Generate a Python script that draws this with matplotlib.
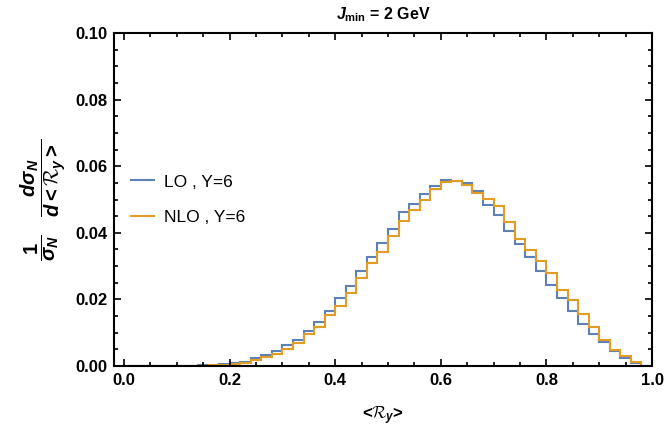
import numpy as np
import matplotlib
matplotlib.use("Agg")
import matplotlib.pyplot as plt
from matplotlib.ticker import MultipleLocator, FormatStrFormatter

plt.rcParams['font.family'] = ['Liberation Sans', 'DejaVu Sans']
plt.rcParams['mathtext.fontset'] = 'custom'
plt.rcParams['mathtext.rm'] = 'Liberation Sans:bold'
plt.rcParams['mathtext.it'] = 'Liberation Sans:bold:italic'
plt.rcParams['mathtext.bf'] = 'Liberation Sans:bold'
plt.rcParams['mathtext.cal'] = 'cmsy10'

# bin edges (width 0.02 from 0 to 1)
bin_edges = np.round(np.arange(0, 51) * 0.02, 2)

lo_values = [0, 0, 0, 0, 0, 0, 0,
             0.0002, 0.0003, 0.0005, 0.0008, 0.0013, 0.0023, 0.0033, 0.0044,
             0.0062, 0.0077, 0.0104, 0.0132, 0.0165,
             0.0204, 0.0240, 0.0286, 0.0327, 0.0370,
             0.0411, 0.0461, 0.0486, 0.0516, 0.0541,
             0.0559, 0.0556, 0.0551, 0.0526, 0.0483,
             0.0453, 0.0406, 0.0366, 0.0326, 0.0286,
             0.0243, 0.0205, 0.0165, 0.0127, 0.0097,
             0.0071, 0.0044, 0.0024, 0.0010,
             0]

nlo_values = [0, 0, 0, 0, 0, 0, 0,
              0.00015, 0.00025, 0.00035, 0.00055, 0.0010, 0.0017, 0.0027, 0.0037,
              0.0051, 0.0069, 0.0097, 0.0117, 0.0152,
              0.0180, 0.0219, 0.0265, 0.0310, 0.0342,
              0.0390, 0.0435, 0.0468, 0.0497, 0.0531,
              0.0552, 0.0556, 0.0544, 0.0520, 0.0502,
              0.0481, 0.0433, 0.0381, 0.0348, 0.0316,
              0.0280, 0.0227, 0.0197, 0.0157, 0.0118,
              0.0078, 0.0049, 0.0029, 0.0011,
              0]

series_labels = ["LO , Y=6", "NLO , Y=6"]
x_ticks = [0.0, 0.2, 0.4, 0.6, 0.8, 1.0]
y_ticks = [0.00, 0.02, 0.04, 0.06, 0.08, 0.10]

fig = plt.figure(figsize=(6.64, 4.26), dpi=100)
ax = fig.add_axes([114/664, 60/426, 538/664, 333/426])

ax.stairs(lo_values, bin_edges, color='#5E81B5', lw=1.5, label=series_labels[0])
ax.stairs(nlo_values, bin_edges, color='#E19C24', lw=1.5, label=series_labels[1])

ax.set_xlim(-0.019, 1.0)
ax.set_ylim(0, 0.1)
ax.set_xticks(x_ticks)
ax.set_yticks(y_ticks)
ax.xaxis.set_major_formatter(FormatStrFormatter('%.1f'))
ax.yaxis.set_major_formatter(FormatStrFormatter('%.2f'))
ax.xaxis.set_minor_locator(MultipleLocator(0.05))
ax.yaxis.set_minor_locator(MultipleLocator(0.005))
ax.tick_params(which='both', direction='in', top=True, right=True, width=1.2)
ax.tick_params(which='major', length=5, labelsize=12, pad=5)
ax.tick_params(which='minor', length=3)
for lab in ax.get_xticklabels() + ax.get_yticklabels():
    lab.set_fontweight('bold')
for sp in ax.spines.values():
    sp.set_linewidth(1.5)

ax.set_title(r"$J_{\rm min}$ = 2 GeV", fontsize=11.5, fontweight='bold', pad=10)
ax.set_xlabel(r"<$\mathcal{R}_y$>", fontsize=12, fontweight='bold', labelpad=12)
ax.set_ylabel(r"$\dfrac{1}{\sigma_N}\ \ \ \dfrac{d\sigma_N}{d < \mathcal{R}_y >}$", fontsize=14.5, labelpad=4)

leg = ax.legend(loc='center left', bbox_to_anchor=(0.0, 0.50), frameon=False,
                fontsize=12.5, handlelength=1.3, handletextpad=0.6, labelspacing=1.15,
                borderaxespad=0.6)

fig.savefig("out.png", dpi=100)
